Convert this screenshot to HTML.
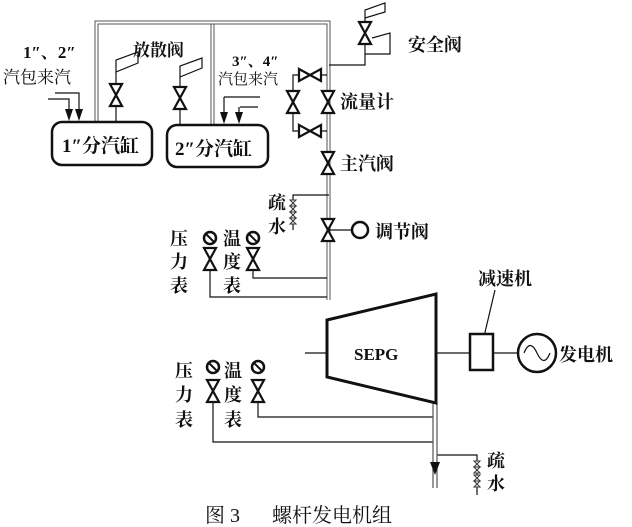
<!DOCTYPE html>
<html><head><meta charset="utf-8"><style>
body{margin:0;background:#fff}
svg{display:block}
text{font-family:"Liberation Serif","Noto Serif CJK SC",serif;fill:#111;font-weight:bold}
text.n{font-weight:normal}
</style></head><body>
<svg width="632" height="527" viewBox="0 0 632 527" xmlns="http://www.w3.org/2000/svg">
<defs>
<g id="vv"><path d="M-6,-11 L6,-11 L-6,11 L6,11 Z" fill="#fff" stroke="#111" stroke-width="2.2" stroke-linejoin="miter"/></g>
<g id="hv"><path d="M-11,-6 L-11,6 L11,-6 L11,6 Z" fill="#fff" stroke="#111" stroke-width="2.2"/></g>
<g id="sv"><path d="M-3,-6 L3,-6 L-3,0 L3,0 Z M-3,0 L3,0 L-3,6 L3,6 Z" fill="#fff" stroke="#333" stroke-width="1"/></g>
<g id="gauge"><circle r="6" fill="#fff" stroke="#111" stroke-width="2.5"/><line x1="-4" y1="-4" x2="4" y2="4" stroke="#111" stroke-width="2"/></g>
<g id="ar"><path d="M-4,-12 L4,-12 L0,0 Z" fill="#111"/></g>
</defs>
<g fill="none" stroke="#555" stroke-width="1">
<path d="M95,122 V21 H330 V300"/>
<path d="M98,122 V24 H327 V300"/>
<path d="M211,125 V24 M214,125 V24"/>
</g>
<g fill="none" stroke="#111" stroke-width="1.2">
<rect x="52" y="122" width="100" height="43" rx="10" stroke-width="2.5"/>
<rect x="167" y="125" width="101" height="42" rx="10" stroke-width="2.5"/>
<path d="M48,99 H69 V115 M55,93 H79 V115"/>
<path d="M224,97 H260 M224,97 V118 M240,107 H258 M239,107 V118"/>
<path d="M116,122 V72 L138,63 V52 L116,60 V72"/>
<path d="M180,125 V77 L202,68 V58 L180,66 V77"/>
<path d="M329,65 H365 V28 M365,28 V10 L385,3 V12 L365,18"/>
<path d="M372,38 L390,33 V54 H365"/>
<path d="M327,75 H293 V131 H327"/>
<path d="M329,195 H293 V230"/>
<path d="M327,230 H352"/>
<path d="M210,270 V297 H327 M253,270 V278 H327"/>
<path d="M305,353 H327 M436,353 H470 M493,353 H518"/>
<path d="M482,345 L495,290"/>
<path d="M258,403 V417 H433 M213,403 V442 H433"/>
<path d="M437,455 H477 V495"/>
</g>
<use href="#ar" x="69" y="121"/>
<use href="#ar" x="79" y="121"/>
<use href="#ar" x="224" y="124"/>
<use href="#ar" x="239" y="124"/>
<path d="M433,403 V488 M437,403 V488" stroke="#555" stroke-width="1.2" fill="none"/>
<path d="M430,462 L440,462 L435,475 Z" fill="#111"/>
<path d="M327,320 L436,294 L436,403 L327,377 Z" fill="#fff" stroke="#111" stroke-width="3"/>
<rect x="470" y="334" width="23" height="36" fill="#fff" stroke="#111" stroke-width="2.5"/>
<circle cx="537" cy="353" r="19" fill="#fff" stroke="#111" stroke-width="2.5"/>
<path d="M524,353 Q530,338 537,353 T550,353" fill="none" stroke="#111" stroke-width="1.2"/>
<use href="#vv" x="116" y="95"/>
<use href="#vv" x="180" y="98"/>
<use href="#vv" x="365" y="33"/>
<use href="#hv" x="310" y="75"/>
<use href="#hv" x="310" y="131"/>
<use href="#vv" x="293" y="102"/>
<use href="#vv" x="328" y="102"/>
<use href="#vv" x="328" y="163"/>
<use href="#vv" x="328" y="230"/>
<use href="#sv" x="293" y="206"/>
<use href="#sv" x="293" y="218"/>
<circle cx="360" cy="230" r="8" fill="#fff" stroke="#111" stroke-width="2.5"/>
<use href="#gauge" x="210" y="238"/>
<use href="#vv" x="210" y="259"/>
<use href="#gauge" x="253" y="238"/>
<use href="#vv" x="253" y="259"/>
<use href="#gauge" x="213" y="367"/>
<use href="#vv" x="213" y="391"/>
<use href="#gauge" x="258" y="367"/>
<use href="#vv" x="258" y="391"/>
<use href="#sv" x="477" y="467"/>
<use href="#sv" x="477" y="481"/>
<g font-size="17">
<text x="23" y="58">1″、2″</text>
<text x="3" y="83" class="n">汽包来汽</text>
<text x="133" y="56">放散阀</text>
<text x="232" y="66" font-size="15">3″、4″</text>
<text x="218" y="84" font-size="15" class="n">汽包来汽</text>
<text x="62" y="152" font-size="19">1″分汽缸</text>
<text x="175" y="155" font-size="19">2″分汽缸</text>
<text x="408" y="51" font-size="18">安全阀</text>
<text x="340" y="108" font-size="18">流量计</text>
<text x="340" y="170" font-size="18">主汽阀</text>
<text x="268" y="209" font-size="18">疏</text>
<text x="268" y="233" font-size="18">水</text>
<text x="375" y="238" font-size="18">调节阀</text>
<text x="170" y="245" font-size="18">压</text>
<text x="170" y="268" font-size="18">力</text>
<text x="170" y="292" font-size="18">表</text>
<text x="223" y="245" font-size="18">温</text>
<text x="223" y="268" font-size="18">度</text>
<text x="223" y="292" font-size="18">表</text>
<text x="478" y="285" font-size="18">减速机</text>
<text x="354" y="360" font-size="17">SEPG</text>
<text x="559" y="361" font-size="18">发电机</text>
<text x="175" y="377" font-size="18">压</text>
<text x="175" y="401" font-size="18">力</text>
<text x="175" y="426" font-size="18">表</text>
<text x="224" y="377" font-size="18">温</text>
<text x="224" y="401" font-size="18">度</text>
<text x="224" y="426" font-size="18">表</text>
<text x="487" y="467" font-size="18">疏</text>
<text x="487" y="490" font-size="18">水</text>
<text x="205" y="522" font-size="20" class="n">图 3</text>
<text x="272" y="522" font-size="20" class="n">螺杆发电机组</text>
</g>
</svg>
</body></html>
